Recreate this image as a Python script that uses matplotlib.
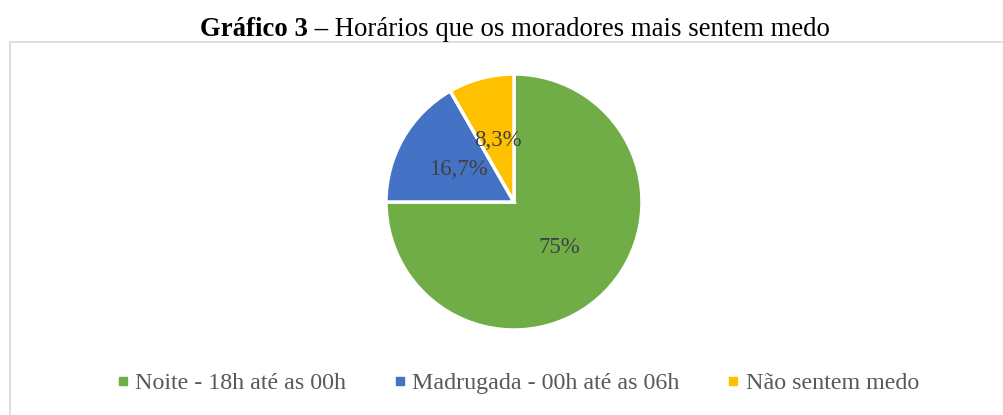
import matplotlib
matplotlib.use("Agg")
import matplotlib.pyplot as plt
from matplotlib.patches import Rectangle
from matplotlib.lines import Line2D
import math

categories = ["Noite - 18h até as 00h", "Madrugada - 00h até as 06h", "Não sentem medo"]
values = [75.0, 16.7, 8.3]
pct_labels = ["75%", "16,7%", "8,3%"]
colors = ["#70AD47", "#4472C4", "#FFC000"]
title_bold = "Gráfico 3 –"
title_rest = " Horários que os moradores mais sentem medo"

W, H = 1004, 415
fig = plt.figure(figsize=(W / 100, H / 100), dpi=100)
plt.rcParams["font.family"] = ["Liberation Serif", "DejaVu Serif"]

# chart border (light gray), open at right/bottom as in the reference
fig.patches.append(Rectangle((9.5 / W, -0.1), 1.2, (H - 42) / H + 0.1,
                             transform=fig.transFigure, fill=False,
                             edgecolor="#d9d9d9", linewidth=1.2))

# pie axes: center (514, 202), radius 128 px
cx, cy, r = 514, 202, 128
ax = fig.add_axes([(cx - r) / W, (H - cy - r) / H, 2 * r / W, 2 * r / H])
wedges, texts = ax.pie(values, colors=colors, startangle=90, counterclock=False,
                       wedgeprops=dict(edgecolor="white", linewidth=2.5),
                       radius=1.0)
ax.set_xlim(-1, 1)
ax.set_ylim(-1, 1)
ax.set_aspect("auto")
ang = 90.0
for v, lab in zip(values, pct_labels):
    mid = ang - v / 100 * 360 / 2
    ang -= v / 100 * 360
    ax.text(0.5 * math.cos(math.radians(mid)), 0.5 * math.sin(math.radians(mid)),
            lab, ha="center", va="center", fontsize=16.5, color="#404040")
ax.axis("off")

# title with bold prefix
fig.canvas.draw()
r_ = fig.canvas.get_renderer()
tb = fig.text(0, 0, title_bold, fontsize=19.3, fontweight="bold", color="black")
tr = fig.text(0, 0, title_rest, fontsize=19.3, color="black")
wb = tb.get_window_extent(r_).width
wr = tr.get_window_extent(r_).width
x0 = (515 - (wb + wr) / 2)
ty = (H - 36) / H
tb.set_position((x0 / W, ty))
tr.set_position(((x0 + wb) / W, ty))

# legend
handles = [Line2D([0], [0], marker="s", linestyle="none", markersize=6,
                  markerfacecolor=c, markeredgecolor=c) for c in colors]
leg = fig.legend(handles, categories, loc="center", ncol=3,
                 bbox_to_anchor=(518 / W, (H - 383) / H), frameon=False,
                 fontsize=17.3, handlelength=0.45, handletextpad=0.3,
                 columnspacing=2.0, labelcolor="#595959")

fig.savefig("out.png", dpi=100, facecolor="white")
